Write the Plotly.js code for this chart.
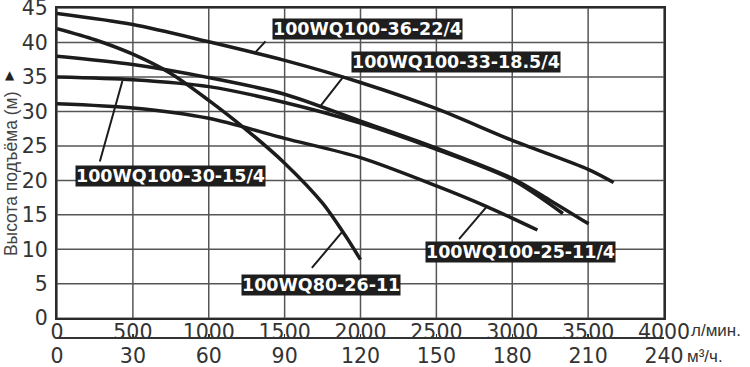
<!DOCTYPE html>
<html><head><meta charset="utf-8">
<script src="https://cdn.plot.ly/plotly-3.0.1.min.js"></script>
<style>html,body{margin:0;padding:0;background:#fff}#chart{width:750px;height:367px}</style>
</head><body><div id="chart"></div>
<script>
// Flow in l/min, head in m
const flowA = [0, 500, 1000, 1500, 2000, 2500, 3000, 3500, 3668];
const headA = [44.2, 42.6, 40.1, 37.4, 34.2, 30.4, 25.8, 21.6, 19.7];
const flowB = [0, 500, 1000, 1500, 2000, 2500, 3000, 3250, 3503];
const headB = [38.0, 36.8, 34.9, 32.5, 28.6, 24.7, 20.3, 17.1, 13.7];
const flowC = [0, 500, 1000, 1500, 2000, 2500, 3000, 3334];
const headC = [35.0, 34.6, 33.6, 31.3, 28.3, 24.5, 20.1, 15.2];
const flowD = [0, 500, 1000, 1500, 2000, 2500, 2832, 3166];
const headD = [31.1, 30.5, 29.0, 26.1, 23.3, 19.2, 16.2, 12.8];
const flowE = [0, 250, 500, 750, 1000, 1250, 1500, 1750, 1900, 2000];
const headE = [42.0, 40.4, 38.3, 35.5, 31.6, 27.3, 22.5, 16.7, 12.0, 8.5];

const seriesNames = ['100WQ100-36-22/4', '100WQ100-33-18.5/4', '100WQ100-30-15/4', '100WQ100-25-11/4', '100WQ80-26-11'];
const flowTicks = [0, 500, 1000, 1500, 2000, 2500, 3000, 3500, 4000];
const m3Ticks = [0, 30, 60, 90, 120, 150, 180, 210, 240];
const headTicks = [0, 5, 10, 15, 20, 25, 30, 35, 40, 45];
const flowUnit = 'л/мин.';
const m3Unit = 'м³/ч.';
const yTitle = 'Высота подъёма (м)';

const flows = [flowA, flowB, flowC, flowD, flowE];
const heads = [headA, headB, headC, headD, headE];

const lineColor = '#1c1c1c';
const gridColor = '#555';
const xMin = flowTicks[0], xMax = flowTicks[flowTicks.length - 1];
const yMin = headTicks[0], yMax = headTicks[headTicks.length - 1];

// grid lines built from the tick arrays, drawn below the curves
const gridX = [], gridY = [];
flowTicks.forEach(v => { gridX.push(v, v, null); gridY.push(yMin, yMax, null); });
headTicks.forEach(v => { gridX.push(xMin, xMax, null); gridY.push(v, v, null); });
const traces = [{type: 'scatter', mode: 'lines', x: gridX, y: gridY, connectgaps: false,
  line: {color: gridColor, width: 1.5}, hoverinfo: 'skip', showlegend: false, xaxis: 'x', yaxis: 'y', cliponaxis: false}];

flows.forEach((f, i) => traces.push({
  type: 'scatter', mode: 'lines', x: f, y: heads[i], name: seriesNames[i],
  line: {color: lineColor, width: 3.5, shape: 'spline', smoothing: 0.8},
  hoverinfo: 'skip', showlegend: false, xaxis: 'x', yaxis: 'y'
}));
traces.push({type: 'scatter', mode: 'lines', x: [m3Ticks[0], m3Ticks[m3Ticks.length-1]], y: [null, null],
  xaxis: 'x2', yaxis: 'y2', hoverinfo: 'skip', showlegend: false});

const tickFont = {family: 'DejaVu Sans, Verdana, sans-serif', size: 20.5, color: '#333'};
const labelFont = {family: 'DejaVu Sans, Verdana, sans-serif', size: 17.5, color: '#ffffff'};

// label placement: curve index, point on curve (data), leader tail offset (px), box center (data)
const labelPlace = [
  {s: 0, px: 1304, py: 38.5, ax: 12, ay: -13, bx: 2046, by: 42.0},
  {s: 1, px: 1733, py: 30.7, ax: 25, ay: -32, bx: 2629, by: 37.2},
  {s: 2, px: 431, py: 34.4, ax: -23, ay: 82, bx: 750, by: 20.7},
  {s: 3, px: 2832, py: 16.2, ax: -29, ay: 34, bx: 3054, by: 9.6},
  {s: 4, px: 1882, py: 12.6, ax: -32, ay: 38, bx: 1741, by: 4.9}
];

const annotations = [];
labelPlace.forEach(p => {
  annotations.push({x: p.px, y: p.py, xref: 'x', yref: 'y', text: '', showarrow: true,
    arrowhead: 0, arrowwidth: 2, arrowcolor: lineColor, ax: p.ax, ay: p.ay, font: {size: 1}});
});
labelPlace.forEach(p => {
  annotations.push({x: p.bx, y: p.by, xref: 'x', yref: 'y', text: '<b>' + seriesNames[p.s] + '</b>',
    showarrow: false, bgcolor: '#1e1e1e', borderpad: 0, font: labelFont});
});
annotations.push({x: -0.0758, y: 0.51, xref: 'paper', yref: 'paper', text: yTitle, textangle: -90,
  showarrow: false, xanchor: 'center', yanchor: 'middle',
  font: {family: 'Liberation Sans, Arial, sans-serif', size: 17.5, color: '#444'}});
annotations.push({x: -0.0775, y: 0.80, xref: 'paper', yref: 'paper', text: '▲', showarrow: false,
  xanchor: 'center', yanchor: 'middle', font: {family: 'DejaVu Sans, sans-serif', size: 12, color: '#222'}});
annotations.push({x: xMax, y: 0.043, xref: 'x', yref: 'paper', text: flowUnit,
  showarrow: false, xanchor: 'left', yanchor: 'middle', xshift: 25,
  font: {family: 'Liberation Sans, Arial, sans-serif', size: 17, color: '#333'}});
annotations.push({x: m3Ticks[m3Ticks.length-1], y: -0.033, xref: 'x2', yref: 'paper', text: m3Unit,
  showarrow: false, xanchor: 'left', yanchor: 'middle', xshift: 21,
  font: {family: 'Liberation Sans, Arial, sans-serif', size: 17, color: '#333'}});

const layout = {
  width: 750, height: 367,
  margin: {l: 57, r: 86, t: 8, b: 22, pad: 0},
  paper_bgcolor: '#fff', plot_bgcolor: 'rgba(0,0,0,0)', showlegend: false,
  xaxis: {range: [xMin, xMax], tickvals: flowTicks, ticktext: flowTicks.map(String),
    showgrid: false, zeroline: false,
    showline: true, mirror: true, linecolor: '#2a2a2a', linewidth: 2, ticks: '',
    tickfont: tickFont, anchor: 'y', fixedrange: true, ticklabelstandoff: -6},
  yaxis: {domain: [0.0792, 1], range: [yMin, yMax], tickvals: headTicks, ticktext: headTicks.map(String),
    showgrid: false, zeroline: false,
    showline: true, mirror: true, linecolor: '#2a2a2a', linewidth: 2, ticks: '',
    tickfont: tickFont, fixedrange: true, ticklabelstandoff: 3, ticklabeloverflow: 'allow'},
  xaxis2: {anchor: 'y2', domain: [0, 1],
    range: [0, 240], tickvals: m3Ticks, ticktext: m3Ticks.map(String),
    showgrid: false, zeroline: false, showline: true, linecolor: '#333', linewidth: 1.5,
    ticks: 'inside', ticklen: 3, tickwidth: 1.5, tickcolor: '#333',
    tickfont: tickFont, fixedrange: true, ticklabelstandoff: 0},
  yaxis2: {domain: [0.0237, 0.045], visible: false, range: [0, 1], fixedrange: true},
  annotations: annotations
};

Plotly.newPlot('chart', traces, layout, {displayModeBar: false, staticPlot: true});
</script>
</body></html>
